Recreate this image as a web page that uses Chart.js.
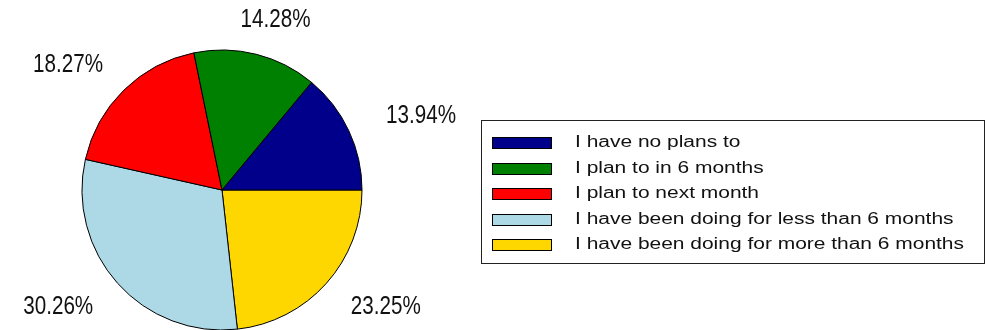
<!DOCTYPE html>
<html>
<head>
<meta charset="utf-8">
<script src="https://cdn.jsdelivr.net/npm/chart.js@4/dist/chart.umd.min.js"></script>
<style>
  html, body { margin: 0; padding: 0; background: #fff; }
  #wrap { width: 985px; height: 330px; position: relative; }
</style>
</head>
<body>
<div id="wrap"><canvas id="pie"></canvas></div>
<script>
'use strict';

// answers, in legend order
var categories = [
  'I have no plans to',
  'I plan to in 6 months',
  'I plan to next month',
  'I have been doing for less than 6 months',
  'I have been doing for more than 6 months'
];
var shares = [13.94, 14.28, 18.27, 30.26, 23.25];
var colors = ['#00008b', '#008000', '#ff0000', '#add8e6', '#ffd700'];

// slices run counter-clockwise from 3 o'clock, chart.js goes clockwise,
// so feed it the list backwards
var pieLabels = categories.slice().reverse();
var pieValues = shares.slice().reverse();
var pieColors = colors.slice().reverse();

function drawStretched(ctx, text, x, y, sx, align) {
  var w = ctx.measureText(text).width * sx;
  var left = x;
  if (align === 'center') left = x - w / 2;
  ctx.save();
  ctx.translate(left, y);
  ctx.scale(sx, 1);
  ctx.textAlign = 'left';
  ctx.fillText(text, 0, 0);
  ctx.restore();
}

// percentage text around the pie
var percentLabels = {
  id: 'percentLabels',
  afterDatasetsDraw: function (chart) {
    var ctx = chart.ctx;
    var meta = chart.getDatasetMeta(0);
    ctx.save();
    ctx.font = '25px "Liberation Sans", Arial, sans-serif';
    ctx.fillStyle = '#111';
    ctx.textBaseline = 'middle';
    var sx = 70 / ctx.measureText('14.28%').width;
    meta.data.forEach(function (arc, i) {
      var p = arc.getProps(['x', 'y', 'startAngle', 'endAngle', 'outerRadius'], true);
      var mid = (p.startAngle + p.endAngle) / 2;
      var lx = p.x + Math.cos(mid) * p.outerRadius * 1.57;
      var ly = p.y + Math.sin(mid) * p.outerRadius * 1.25;
      drawStretched(ctx, pieValues[i].toFixed(2) + '%', lx, ly, sx, 'center');
    });
    ctx.restore();
  }
};

// boxed legend on the right
var boxLegend = {
  id: 'boxLegend',
  afterDraw: function (chart) {
    var ctx = chart.ctx;
    var left = 481, top = 120, right = 984, bottom = 263;
    ctx.save();
    ctx.strokeStyle = '#222';
    ctx.lineWidth = 1;
    ctx.strokeRect(left + 0.5, top + 0.5, right - left, bottom - top);

    ctx.font = '16px "Liberation Sans", Arial, sans-serif';
    ctx.textBaseline = 'middle';
    var longest = 0;
    categories.forEach(function (c) {
      longest = Math.max(longest, ctx.measureText(c).width);
    });
    var sx = 389 / longest;

    categories.forEach(function (c, i) {
      var cy = 143 + i * 25.5;
      ctx.fillStyle = colors[i];
      ctx.fillRect(492, Math.round(cy - 6), 60, 12);
      ctx.strokeStyle = '#000';
      ctx.strokeRect(492.5, Math.round(cy - 6) + 0.5, 59, 11);
      ctx.fillStyle = '#111';
      drawStretched(ctx, c, 575, cy, sx, 'left');
    });
    ctx.restore();
  }
};

new Chart(document.getElementById('pie'), {
  type: 'pie',
  data: {
    labels: pieLabels,
    datasets: [{
      data: pieValues,
      backgroundColor: pieColors,
      borderColor: '#000',
      borderWidth: 1
    }]
  },
  options: {
    responsive: true,
    maintainAspectRatio: false,
    animation: false,
    rotation: 90,
    radius: 140,
    layout: {
      padding: { left: 82, right: 623, top: 50, bottom: 0 }
    },
    plugins: {
      legend: { display: false },
      tooltip: { enabled: false }
    }
  },
  plugins: [percentLabels, boxLegend]
});
</script>
</body>
</html>
